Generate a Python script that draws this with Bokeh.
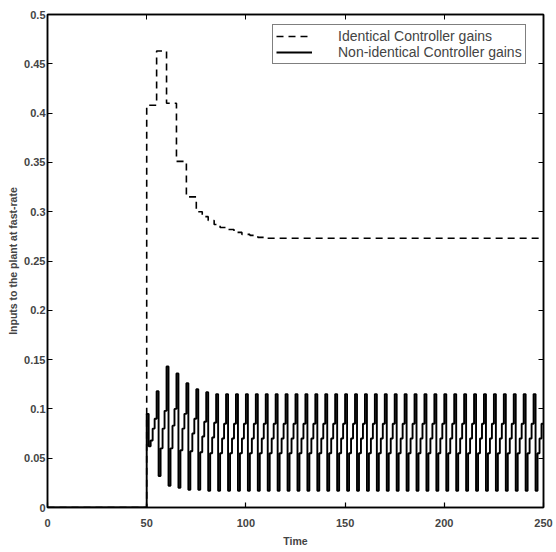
from bokeh.plotting import figure
from bokeh.models import Range1d, FixedTicker, LinearAxis, Legend, LegendItem, CustomLabelingPolicy
from bokeh.embed import file_html
from bokeh.resources import INLINE

# ---- data ----
# Identical controller gains (dashed): staircase switch times and values
dash_t = [0, 50, 55, 60, 65, 70, 75, 78, 81, 84, 87, 90, 94, 98, 102, 106, 110, 250]
dash_v = [0.0, 0.408, 0.463, 0.410, 0.351, 0.315, 0.300, 0.295, 0.291, 0.287,
          0.284, 0.282, 0.279, 0.277, 0.276, 0.274, 0.273, 0.273]

# Non-identical controller gains (solid): fast-rate samples, 5 per slow period
start_t = 50
transient_cycles = [
    [0.095, 0.062, 0.068, 0.080, 0.090],
    [0.118, 0.032, 0.060, 0.080, 0.098],
    [0.143, 0.022, 0.060, 0.083, 0.100],
    [0.136, 0.020, 0.058, 0.080, 0.095],
    [0.126, 0.018, 0.057, 0.075, 0.090],
    [0.120, 0.018, 0.056, 0.072, 0.087],
    [0.117, 0.017, 0.055, 0.071, 0.086],
]
steady_cycle = [0.115, 0.017, 0.055, 0.070, 0.085]
steady_count = 33

x_ticks = [0, 50, 100, 150, 200, 250]
x_tick_labels = ["0", "50", "100", "150", "200", "250"]
y_ticks = [0, 0.05, 0.1, 0.15, 0.2, 0.25, 0.3, 0.35, 0.4, 0.45, 0.5]
y_tick_labels = ["0", "0.05", "0.1", "0.15", "0.2", "0.25", "0.3", "0.35", "0.4", "0.45", "0.5"]

series_names = ["Identical Controller gains", "Non-identical Controller gains"]

# ---- build solid series ----
solid_v = [0.0]
for c in transient_cycles:
    solid_v += c
for _ in range(steady_count):
    solid_v += steady_cycle
solid_t = [0] + [start_t + i for i in range(len(solid_v) - 1)]
solid_t.append(250)
solid_v.append(solid_v[-1])

p = figure(width=556, height=552, output_backend="svg", toolbar_location=None,
           x_range=Range1d(0, 250), y_range=Range1d(0, 0.5),
           min_border_left=47, min_border_right=13, min_border_top=14, min_border_bottom=45)
p.background_fill_color = "white"
p.border_fill_color = "white"
p.outline_line_color = "black"
p.outline_line_width = 1.5
p.xgrid.visible = False
p.ygrid.visible = False

r1 = p.step(dash_t, dash_v, mode="after", line_color="black", line_width=1.6, line_dash="7 5")
r2 = p.step(solid_t, solid_v, mode="after", line_color="black", line_width=1.9)

font = "Liberation Sans"
for ax in p.xaxis:
    ax.ticker = FixedTicker(ticks=x_ticks)
    ax.major_label_overrides = {t: l for t, l in zip(x_ticks, x_tick_labels)}
for ax in p.yaxis:
    ax.ticker = FixedTicker(ticks=y_ticks)
    ax.major_label_overrides = {t: l for t, l in zip(y_ticks, y_tick_labels)}

p.xaxis.axis_label = "Time"
p.yaxis.axis_label = "Inputs to the plant at fast-rate"
for ax in p.xaxis + p.yaxis:
    ax.major_tick_in = 5
    ax.major_tick_out = 0
    ax.minor_tick_line_color = None
    ax.axis_line_width = 1.5
    ax.major_tick_line_width = 1.2
    ax.major_label_text_font = font
    ax.major_label_text_font_style = "bold"
    ax.major_label_text_font_size = "11px"
    ax.axis_label_text_font = font
    ax.axis_label_text_font_style = "bold"
    ax.axis_label_text_font_size = "10.5px"
p.xaxis.major_label_standoff = 11
p.xaxis.axis_label_standoff = 5
p.yaxis.major_label_standoff = 2
p.yaxis.axis_label_standoff = 2

hide_labels = "for (const i of [...indices]) { indices.unset(i) } return indices"
top_ax = LinearAxis(ticker=FixedTicker(ticks=x_ticks), major_tick_in=5, major_tick_out=0,
                    minor_tick_line_color=None, major_label_standoff=0, axis_line_width=1.5,
                    major_label_text_font_size="0px",
                    major_label_policy=CustomLabelingPolicy(code=hide_labels))
right_ax = LinearAxis(ticker=FixedTicker(ticks=y_ticks), major_tick_in=5, major_tick_out=0,
                      minor_tick_line_color=None, major_label_standoff=0, axis_line_width=1.5,
                      major_label_text_font_size="0px",
                      major_label_policy=CustomLabelingPolicy(code=hide_labels))
p.add_layout(top_ax, "above")
p.add_layout(right_ax, "right")

legend = Legend(items=[LegendItem(label=series_names[0], renderers=[r1]),
                       LegendItem(label=series_names[1], renderers=[r2])],
                location=(225, 443))
legend.label_text_font = font
legend.label_text_font_size = "14px"
legend.label_height = 12
legend.glyph_height = 12
legend.glyph_width = 36
legend.label_standoff = 26
legend.spacing = 0
legend.padding = 3
legend.border_line_color = "black"
legend.border_line_width = 1
legend.background_fill_color = "white"
legend.background_fill_alpha = 1.0
p.add_layout(legend, "center")

open("out.html", "w").write(file_html(p, INLINE))
